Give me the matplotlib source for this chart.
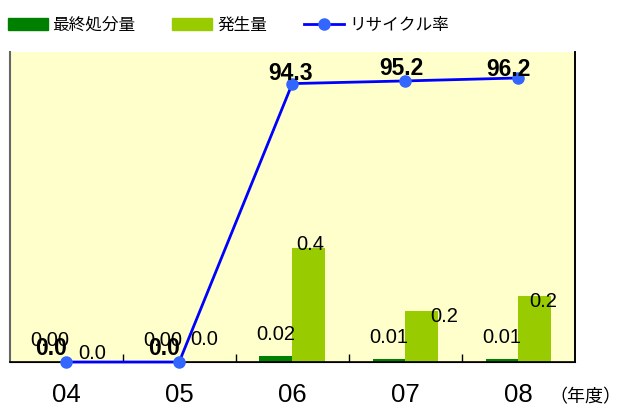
import matplotlib.pyplot as plt
from matplotlib.patches import Patch
from matplotlib.lines import Line2D
import numpy as np

plt.rcParams['font.family'] = ['Liberation Sans', 'Noto Sans CJK JP', 'DejaVu Sans']

years = ['04', '05', '06', '07', '08']
disposal = [0.0, 0.0, 0.02, 0.01, 0.01]          # 最終処分量
generated = [0.0, 0.0, 0.385, 0.173, 0.224]      # 発生量
recycle = [0.0, 0.0, 94.3, 95.2, 96.2]           # リサイクル率

disposal_labels = ['0.00', '0.00', '0.02', '0.01', '0.01']
generated_labels = ['0.0', '0.0', '0.4', '0.2', '0.2']
recycle_labels = ['0.0', '0.0', '94.3', '95.2', '96.2']

# label offsets in points (as placed in the original chart)
gen_off = [(7, 6), (6, 16), (1, 3), (16, -4), (6, -4)]
rec_off = [(-11, 10), (-11, 10), (-1, 7), (-3, 9), (-7, 6)]

dark = '#008000'
light = '#99CC00'

fig = plt.figure(figsize=(6.23, 4.11), dpi=100)
ax = fig.add_axes([0.0153, 0.1192, 0.9077, 0.7543])
ax.set_facecolor('#FFFFCC')

x = np.arange(len(years))
w = 0.29
ax.bar(x - w / 2, disposal, w, color=dark, zorder=2)
ax.bar(x + w / 2, generated, w, color=light, zorder=2)
ax.set_xlim(-0.5, len(years) - 0.5)
ax.set_ylim(0, 1.05)
ax.set_yticks([])
ax.set_xticks(x)
ax.set_xticklabels(years, fontsize=18.5)
ax.tick_params(axis='x', length=0, pad=15)
ax.set_xticks(x[:-1] + 0.5, minor=True)
ax.tick_params(axis='x', which='minor', direction='in', length=6, width=1)

ax.spines['top'].set_visible(False)
ax.spines['left'].set_color('#666666')
ax.spines['left'].set_linewidth(1.5)
ax.spines['right'].set_linewidth(1.2)
ax.spines['bottom'].set_linewidth(1.2)

for i in range(len(years)):
    ax.annotate(disposal_labels[i], (x[i] - w / 2, disposal[i]), xytext=(0, 9),
                textcoords='offset points', ha='center', va='bottom', fontsize=14.5, zorder=5)
    ax.annotate(generated_labels[i], (x[i] + w / 2, generated[i]), xytext=gen_off[i],
                textcoords='offset points', ha='center', va='center', fontsize=14.5, zorder=5)

ax2 = ax.twinx()
ax2.set_ylim(0, 105)
ax2.set_yticks([])
for s in ['top', 'left']:
    ax2.spines[s].set_visible(False)
ax2.spines['right'].set_linewidth(1.2)
ax2.plot(x, recycle, color='#0000FF', linewidth=2, marker='o', markersize=8,
         markerfacecolor='#3366FF', markeredgecolor='#3366FF', clip_on=False, zorder=3)
for i in range(len(years)):
    ax2.annotate(recycle_labels[i], (x[i], recycle[i]), xytext=rec_off[i],
                 textcoords='offset points', ha='center', va='center', fontsize=16.5,
                 fontweight='bold', zorder=6)

fig.text(0.882, 0.022, '（年度）', fontsize=13, family=['Noto Sans CJK JP'])

handles = [Patch(color=dark), Patch(color=light),
           Line2D([], [], color='#0000FF', linewidth=2, marker='o', markersize=8,
                  markerfacecolor='#3366FF', markeredgecolor='#3366FF')]
fig.legend(handles, ['最終処分量', '発生量', 'リサイクル率'], loc='upper left',
           bbox_to_anchor=(-0.012, 0.995), ncol=3, frameon=False,
           prop={'family': ['Noto Sans CJK JP'], 'size': 12},
           handlelength=2.4, handleheight=0.75, handletextpad=0.3, columnspacing=2.2)

fig.savefig('out.png', dpi=100)
